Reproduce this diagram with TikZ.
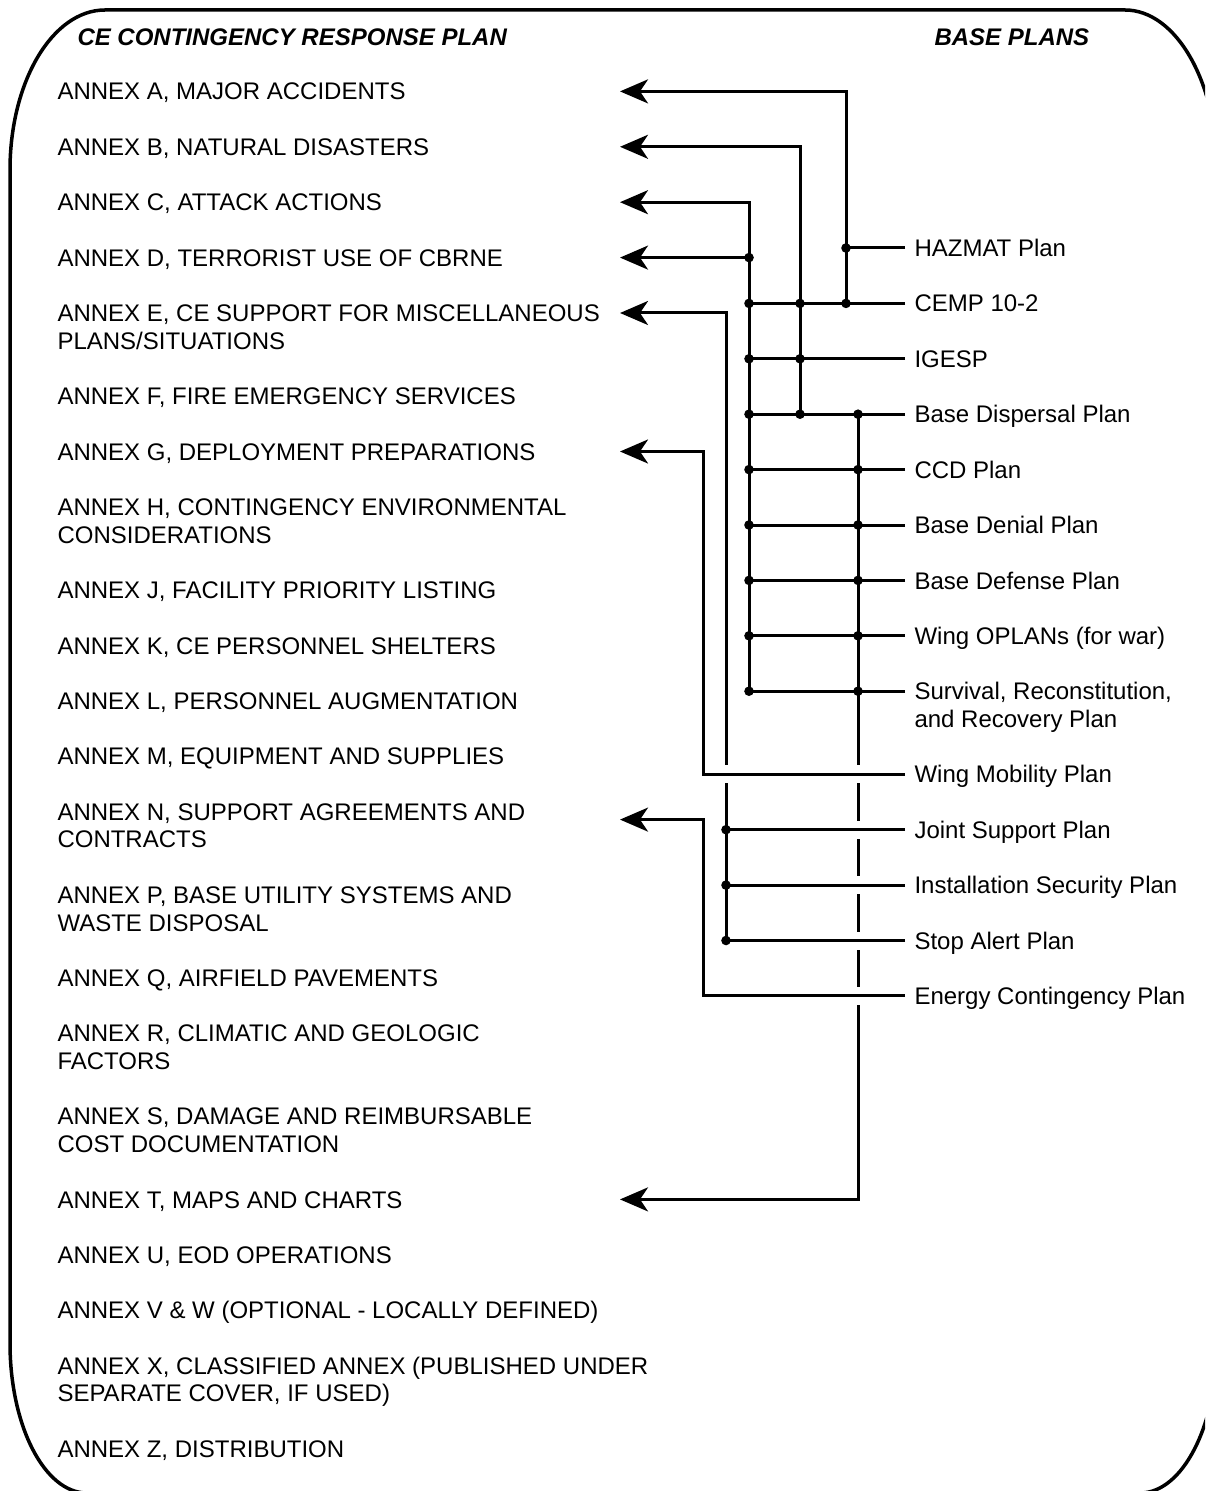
\documentclass[tikz,border=0pt]{standalone}
\usepackage{fontspec}
\setmainfont{Liberation Sans}
\usetikzlibrary{arrows.meta}
\newcommand\twoline[2]{\begin{tabular}[t]{@{}l@{}}#1\\#2\end{tabular}}

\begin{document}
\begin{tikzpicture}[x=0.5pt, y=-0.5pt, line width=1.5pt,
  txt/.style={anchor=west, inner sep=0pt, text height=9.6pt, text depth=1pt, font=\fontsize{12}{13.85}\selectfont},
  annex/.style={txt},
  plan/.style={txt, inner xsep=4pt},
  head/.style={txt, font=\fontsize{12}{13.85}\selectfont\bfseries\itshape},
  feed/.style={-{Stealth[length=14pt, width=12pt, inset=4pt]}},
  gap/.style={white, line width=4.5pt},
  frame/.style={line width=1.75pt}]
\useasboundingbox (0,0) rectangle (1207,1491);
\begin{scope}
\clip (0,0) rectangle (1205,1491);
\draw[frame] (10,1343) -- (10,170) arc[start angle=180, end angle=270, x radius=95, y radius=160]
  -- (1125,10) arc[start angle=270, end angle=360, x radius=92, y radius=160]
  -- (1217,1343) arc[start angle=0, end angle=90, x radius=77, y radius=150]
  -- (87,1493) arc[start angle=90, end angle=180, x radius=77, y radius=150] -- cycle;
\end{scope}

\node[head] (cehead) at (76,36.5) {CE CONTINGENCY RESPONSE PLAN};
\node[head] (basehead) at (933,36.5) {BASE PLANS};

\foreach \k/\anx/\words in {0/anxA/{ANNEX A, MAJOR ACCIDENTS}, 2/anxB/{ANNEX B, NATURAL DISASTERS},
    4/anxC/{ANNEX C, ATTACK ACTIONS}, 6/anxD/{ANNEX D, TERRORIST USE OF CBRNE},
    8/anxE/{\twoline{ANNEX E, CE SUPPORT FOR MISCELLANEOUS}{PLANS/SITUATIONS}},
    11/anxF/{ANNEX F, FIRE EMERGENCY SERVICES}, 13/anxG/{ANNEX G, DEPLOYMENT PREPARATIONS},
    15/anxH/{\twoline{ANNEX H, CONTINGENCY ENVIRONMENTAL}{CONSIDERATIONS}},
    18/anxJ/{ANNEX J, FACILITY PRIORITY LISTING}, 20/anxK/{ANNEX K, CE PERSONNEL SHELTERS},
    22/anxL/{ANNEX L, PERSONNEL AUGMENTATION}, 24/anxM/{ANNEX M, EQUIPMENT AND SUPPLIES},
    26/anxN/{\twoline{ANNEX N, SUPPORT AGREEMENTS AND}{CONTRACTS}},
    29/anxP/{\twoline{ANNEX P, BASE UTILITY SYSTEMS AND}{WASTE DISPOSAL}},
    32/anxQ/{ANNEX Q, AIRFIELD PAVEMENTS},
    34/anxR/{\twoline{ANNEX R, CLIMATIC AND GEOLOGIC}{FACTORS}},
    37/anxS/{\twoline{ANNEX S, DAMAGE AND REIMBURSABLE}{COST DOCUMENTATION}},
    40/anxT/{ANNEX T, MAPS AND CHARTS}, 42/anxU/{ANNEX U, EOD OPERATIONS},
    44/anxV/{ANNEX V \& W (OPTIONAL - LOCALLY DEFINED)},
    46/anxX/{\twoline{ANNEX X, CLASSIFIED ANNEX (PUBLISHED UNDER}{SEPARATE COVER, IF USED)}},
    49/anxZ/{ANNEX Z, DISTRIBUTION}}
  \node[annex] (\anx) at (56,91.4+\k*27.7) {\words};

\foreach \k/\pl/\words in {0/hazmat/{HAZMAT Plan}, 2/cemp/{CEMP 10-2}, 4/igesp/{IGESP},
    6/disp/{Base Dispersal Plan}, 8/ccd/{CCD Plan}, 10/denial/{Base Denial Plan},
    12/defense/{Base Defense Plan}, 14/oplans/{Wing OPLANs (for war)},
    16/surv/{\twoline{Survival, Reconstitution,}{and Recovery Plan}},
    19/mob/{Wing Mobility Plan}, 21/joint/{Joint Support Plan},
    23/install/{Installation Security Plan}, 25/stop/{Stop Alert Plan},
    27/energy/{Energy Contingency Plan}}
  \node[plan] (\pl) at (905,248+\k*27.7) {\words};

\coordinate (tip) at (620,0);
\coordinate (colG) at (703,0);
\coordinate (colE) at (726,0);
\coordinate (colC) at (749,0);
\coordinate (colB) at (800,0);
\coordinate (colA) at (846,0);
\coordinate (colT) at (858,0);
\coordinate (nIn) at ([yshift=-4pt]anxN.west);

\draw[feed] (cemp.west -| colA) |- (anxA.west -| tip);
\draw[feed] (disp.west -| colB) |- (anxB.west -| tip);
\draw[feed] (surv.west -| colC) |- (anxC.west -| tip);
\draw[feed] (anxD.west -| colC) -- (anxD.west -| tip);
\draw[feed] (stop.west -| colE) |- (anxE.west -| tip);
\draw[feed] (disp.west -| colT) |- (anxT.west -| tip);

\foreach \r/\c in {mob/colE, mob/colT, joint/colT, install/colT, stop/colT, energy/colT}
  \draw[gap] (\r.west -| \c) ++(0,-9) -- ++(0,18);

\draw (hazmat.west) -- (hazmat.west -| colA);
\foreach \r in {cemp, igesp, disp, ccd, denial, defense, oplans, surv}
  \draw (\r.west) -- (\r.west -| colC);
\foreach \r in {joint, install, stop}
  \draw (\r.west) -- (\r.west -| colE);
\draw[feed] (mob.west) -| (colG |- anxG.west) -- (anxG.west -| tip);
\draw[feed] (energy.west) -| (colG |- nIn) -- (nIn -| tip);

\foreach \r/\c in {hazmat/colA, cemp/colA, cemp/colB, igesp/colB, disp/colB,
    anxD/colC, cemp/colC, igesp/colC, disp/colC, ccd/colC, denial/colC, defense/colC, oplans/colC, surv/colC,
    disp/colT, ccd/colT, denial/colT, defense/colT, oplans/colT, surv/colT,
    joint/colE, install/colE, stop/colE}
  \fill (\r.west -| \c) circle[radius=2.4pt];
\end{tikzpicture}
\end{document}
